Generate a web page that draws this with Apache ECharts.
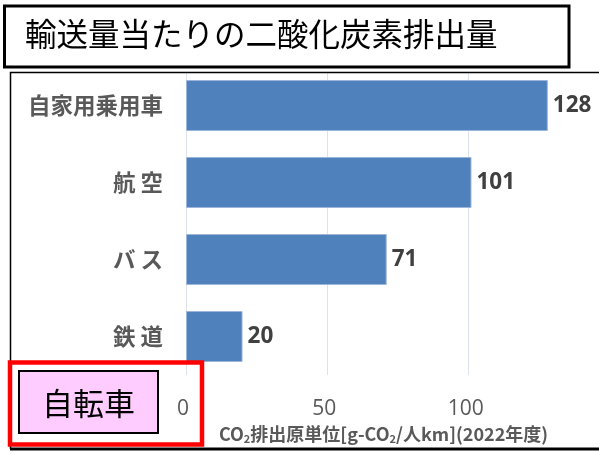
<!DOCTYPE html>
<html>
<head>
<meta charset="utf-8">
<script src="https://cdn.jsdelivr.net/npm/echarts@6/dist/echarts.min.js"></script>
<style>html,body{margin:0;padding:0;background:#fff;}#c{width:599px;height:454px;}</style>
</head>
<body>
<div id="c"></div>
<script>
const categories = ['自家用乗用車', '航 空', 'バ ス', '鉄 道'];
const values = [128, 101, 71, 20];
const xTicks = [0, 50, 100, 150];
const titleText = '輸送量当たりの二酸化炭素排出量';
const noteText = '自転車';

const chart = echarts.init(document.getElementById('c'), null, {renderer: 'canvas'});
const cjk = '"Noto Sans CJK JP", "Noto Sans", sans-serif';
chart.setOption({
  animation: false,
  backgroundColor: '#fff',
  grid: {left: 186, right: -11, top: 67, bottom: 79, containLabel: false, outerBoundsMode: 'none'},
  xAxis: {
    type: 'value',
    min: xTicks[0], max: xTicks[xTicks.length - 1], interval: 50,
    axisLine: {show: false}, axisTick: {show: false},
    splitLine: {show: true, lineStyle: {color: '#dde3ea', width: 1}},
    axisLabel: {showMaxLabel: false, color: '#595959', fontSize: 21, fontFamily: '"Open Sans", sans-serif', margin: 24, padding: [0, 6, 0, 0]},
    name: '{a|CO}{s|2}{a|排出原単位[g-CO}{s|2}{a|/人km](2022年度)}',
    nameLocation: 'middle', nameGap: 49,
    nameTextStyle: {
      padding: [0, 29, 0, 0],
      rich: {
        a: {fontSize: 18, fontWeight: 'bold', color: '#595959', fontFamily: cjk},
        s: {fontSize: 11, fontWeight: 'bold', color: '#595959', fontFamily: cjk, padding: [9, 0, 0, 0]}
      }
    }
  },
  yAxis: {
    type: 'category', data: categories, inverse: true,
    axisLine: {show: false}, axisTick: {show: false},
    axisLabel: {color: '#595959', fontSize: 22.5, fontWeight: 'bold', fontFamily: cjk, margin: 23}
  },
  series: [{
    type: 'bar', data: values, barWidth: 51,
    itemStyle: {color: '#4f81bd', borderColor: '#9db5d9', borderWidth: 1},
    label: {show: true, position: 'right', distance: 5, color: '#404040', fontSize: 22.5, fontWeight: 'bold', fontFamily: '"Open Sans", sans-serif'}
  }],
  graphic: [
    {type: 'rect', z: 100, shape: {x: 150, y: 67.5, width: 449, height: 4.5}, style: {fill: '#fff'}},
    {type: 'rect', z: 101, shape: {x: 4.5, y: 6, width: 564.5, height: 61}, style: {fill: 'none', stroke: '#000', lineWidth: 3}},
    {type: 'text', z: 101, left: 25, top: 18, style: {text: titleText, fill: '#000', fontSize: 31.5, fontFamily: cjk}},
    {type: 'polyline', z: 101, shape: {points: [[600, 72.5], [10.5, 72.5], [10.5, 449]]}, style: {stroke: '#000', lineWidth: 1.5, fill: null}},
    {type: 'line', z: 101, shape: {x1: 10, y1: 449, x2: 600, y2: 449}, style: {stroke: '#000', lineWidth: 3}},
    {type: 'rect', z: 102, shape: {x: 19, y: 371, width: 139, height: 62}, style: {fill: '#ffccff', stroke: '#000', lineWidth: 2}},
    {type: 'text', z: 103, x: 88.5, y: 403, style: {text: noteText, fill: '#000', fontSize: 31, fontFamily: cjk, align: 'center', verticalAlign: 'middle'}},
    {type: 'rect', z: 104, shape: {x: 10, y: 362.5, width: 192, height: 82}, style: {fill: 'none', stroke: '#ff0000', lineWidth: 4.5}}
  ]
});
</script>
</body>
</html>
